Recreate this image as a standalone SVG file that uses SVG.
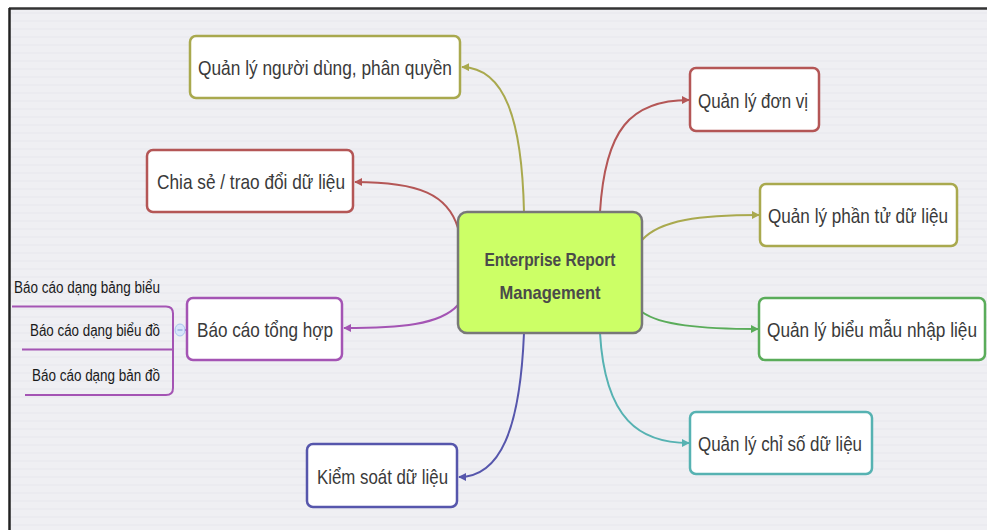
<svg xmlns="http://www.w3.org/2000/svg" width="987" height="530" viewBox="0 0 987 530">
<defs>
<pattern id="stripes" width="8" height="8" patternUnits="userSpaceOnUse">
<rect width="8" height="8" fill="#efeff3"/>
<rect y="4" width="8" height="2" fill="#ebebf0"/>
</pattern>
<marker id="aOl" viewBox="0 0 10 10" refX="9" refY="5" markerWidth="8" markerHeight="8" markerUnits="userSpaceOnUse" orient="auto"><path d="M0,0 L10,5 L0,10 z" fill="#a9a94e"/></marker>
<marker id="aRd" viewBox="0 0 10 10" refX="9" refY="5" markerWidth="8" markerHeight="8" markerUnits="userSpaceOnUse" orient="auto"><path d="M0,0 L10,5 L0,10 z" fill="#b45656"/></marker>
<marker id="aPu" viewBox="0 0 10 10" refX="9" refY="5" markerWidth="8" markerHeight="8" markerUnits="userSpaceOnUse" orient="auto"><path d="M0,0 L10,5 L0,10 z" fill="#a454b4"/></marker>
<marker id="aBl" viewBox="0 0 10 10" refX="9" refY="5" markerWidth="8" markerHeight="8" markerUnits="userSpaceOnUse" orient="auto"><path d="M0,0 L10,5 L0,10 z" fill="#5656ac"/></marker>
<marker id="aGr" viewBox="0 0 10 10" refX="9" refY="5" markerWidth="8" markerHeight="8" markerUnits="userSpaceOnUse" orient="auto"><path d="M0,0 L10,5 L0,10 z" fill="#5aac5a"/></marker>
<marker id="aTe" viewBox="0 0 10 10" refX="9" refY="5" markerWidth="8" markerHeight="8" markerUnits="userSpaceOnUse" orient="auto"><path d="M0,0 L10,5 L0,10 z" fill="#56b2b2"/></marker>
</defs>
<style>
.box{fill:#ffffff;stroke-width:2.5}
.t{font-family:"Liberation Sans","DejaVu Sans",sans-serif;font-size:21px;fill:#3a3a3a;text-anchor:start}
.s{font-family:"Liberation Sans","DejaVu Sans",sans-serif;font-size:16px;fill:#1a1a1a;text-anchor:start}
.c{fill:none;stroke-width:2}
.ol{stroke:#a9a94e}.rd{stroke:#b45656}.pu{stroke:#a454b4}.bl{stroke:#5656ac}.gr{stroke:#5aac5a}.te{stroke:#56b2b2}
</style>
<rect width="987" height="530" fill="#ffffff"/>
<rect x="10" y="9" width="977" height="521" fill="url(#stripes)"/>
<line x1="9" y1="8.5" x2="987" y2="8.5" stroke="#333" stroke-width="2.5"/>
<line x1="9.5" y1="8" x2="9.5" y2="530" stroke="#222" stroke-width="2.5"/>

<g id="connectors">
<path class="c ol" d="M524,212 C522,120 505,68 462,67" marker-end="url(#aOl)"/>
<path class="c rd" d="M458,228 C448,195 420,182 355,182" marker-end="url(#aRd)"/>
<path class="c pu" d="M458,305 C440,325 400,328 344,328" marker-end="url(#aPu)"/>
<path class="c bl" d="M524,333 C520,430 500,477 459,477" marker-end="url(#aBl)"/>
<path class="c rd" d="M600,212 C605,130 630,100 689,100" marker-end="url(#aRd)"/>
<path class="c ol" d="M642,240 C660,220 700,215 759,215" marker-end="url(#aOl)"/>
<path class="c gr" d="M642,312 C660,325 700,329 758,329" marker-end="url(#aGr)"/>
<path class="c te" d="M600,333 C605,420 640,443 689,443" marker-end="url(#aTe)"/>
<path class="c pu" d="M187,330 L180,330"/>
<path class="c pu" d="M12,306.5 L166,306.5 Q173,306.5 173,313.5 L173,388 Q173,395 166,395 L25,395"/>
<path class="c pu" d="M22,349.5 L173,349.5"/>
</g>

<g id="center">
<rect x="458" y="212" width="184" height="121" rx="9" fill="#ccff66" stroke="#787878" stroke-width="2.5"/>
<text x="550" y="266" font-family="Liberation Sans, sans-serif" font-size="19" font-weight="bold" fill="#4a4a4a" text-anchor="middle" textLength="131" lengthAdjust="spacingAndGlyphs">Enterprise Report</text>
<text x="550" y="299" font-family="Liberation Sans, sans-serif" font-size="19" font-weight="bold" fill="#4a4a4a" text-anchor="middle" textLength="101" lengthAdjust="spacingAndGlyphs">Management</text>
</g>

<g id="n-nguoidung">
<rect class="box ol" x="190" y="36" width="270" height="62" rx="6"/>
<text class="t" x="198" y="75" textLength="254" lengthAdjust="spacingAndGlyphs">Quản lý người dùng, phân quyền</text>
</g>
<g id="n-chiase">
<rect class="box rd" x="147" y="150" width="206" height="62" rx="6"/>
<text class="t" x="157" y="189" textLength="188" lengthAdjust="spacingAndGlyphs">Chia sẻ / trao đổi dữ liệu</text>
</g>
<g id="n-baocao">
<rect class="box pu" x="187" y="298" width="155" height="62" rx="6"/>
<text class="t" x="197" y="337" textLength="136" lengthAdjust="spacingAndGlyphs">Báo cáo tổng hợp</text>
<ellipse cx="180" cy="330" rx="5" ry="6" fill="#d8e6fb" stroke="#a9c4ee" stroke-width="1"/>
<line x1="177.5" y1="330" x2="182.5" y2="330" stroke="#7f9fd0" stroke-width="1"/>
</g>
<g id="n-bangbieu">
<text class="s" x="14" y="293" textLength="146" lengthAdjust="spacingAndGlyphs">Báo cáo dạng bảng biểu</text>
</g>
<g id="n-bieudo">
<text class="s" x="30" y="336" textLength="130" lengthAdjust="spacingAndGlyphs">Báo cáo dạng biểu đồ</text>
</g>
<g id="n-bando">
<text class="s" x="32" y="381" textLength="128" lengthAdjust="spacingAndGlyphs">Báo cáo dạng bản đồ</text>
</g>
<g id="n-kiemsoat">
<rect class="box bl" x="307" y="444" width="150" height="63" rx="6"/>
<text class="t" x="317" y="484" textLength="131" lengthAdjust="spacingAndGlyphs">Kiểm soát dữ liệu</text>
</g>
<g id="n-donvi">
<rect class="box rd" x="690" y="68" width="129" height="63" rx="6"/>
<text class="t" x="698" y="108" textLength="110" lengthAdjust="spacingAndGlyphs">Quản lý đơn vị</text>
</g>
<g id="n-phantu">
<rect class="box ol" x="760" y="184" width="197" height="62" rx="6"/>
<text class="t" x="768" y="223" textLength="180" lengthAdjust="spacingAndGlyphs">Quản lý phần tử dữ liệu</text>
</g>
<g id="n-bieumau">
<rect class="box gr" x="759" y="298" width="226" height="62" rx="6"/>
<text class="t" x="767" y="337" textLength="210" lengthAdjust="spacingAndGlyphs">Quản lý biểu mẫu nhập liệu</text>
</g>
<g id="n-chiso">
<rect class="box te" x="690" y="412" width="182" height="62" rx="6"/>
<text class="t" x="698" y="451" textLength="164" lengthAdjust="spacingAndGlyphs">Quản lý chỉ số dữ liệu</text>
</g>
</svg>
